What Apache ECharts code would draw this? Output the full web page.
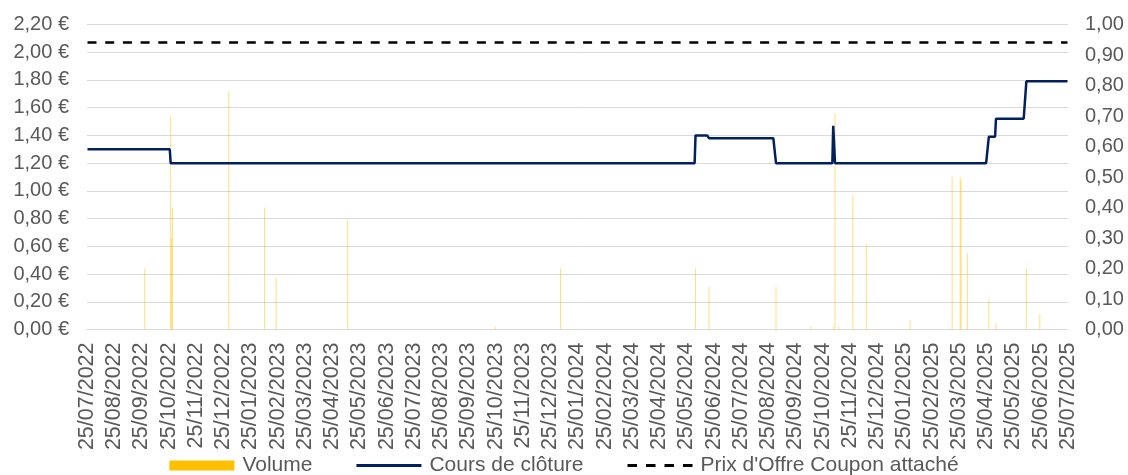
<!DOCTYPE html>
<html>
<head>
<meta charset="utf-8">
<title>Cours de clôture</title>
<script src="https://cdn.jsdelivr.net/npm/echarts@6/dist/echarts.min.js"></script>
<style>
  html, body { margin: 0; padding: 0; background: #fff; }
  #chart { width: 1128px; height: 475px; }
</style>
</head>
<body>
<div id="chart"></div>
<script>
// libellés de l'axe des dates (un par mois)
var monthLabels = [
    '25/07/2022', '25/08/2022', '25/09/2022', '25/10/2022', '25/11/2022', '25/12/2022',
    '25/01/2023', '25/02/2023', '25/03/2023', '25/04/2023', '25/05/2023', '25/06/2023',
    '25/07/2023', '25/08/2023', '25/09/2023', '25/10/2023', '25/11/2023', '25/12/2023',
    '25/01/2024', '25/02/2024', '25/03/2024', '25/04/2024', '25/05/2024', '25/06/2024',
    '25/07/2024', '25/08/2024', '25/09/2024', '25/10/2024', '25/11/2024', '25/12/2024',
    '25/01/2025', '25/02/2025', '25/03/2025', '25/04/2025', '25/05/2025', '25/06/2025',
    '25/07/2025'
];

// cours de clôture (€) : points de changement
var closeDates = [
    '2022-07-25', '2022-10-25', '2022-10-26', '2024-06-03', '2024-06-04', '2024-06-17',
    '2024-06-19', '2024-08-30', '2024-09-02', '2024-11-04', '2024-11-05', '2024-11-06',
    '2024-11-07', '2025-04-25', '2025-04-28', '2025-05-05', '2025-05-06', '2025-06-06',
    '2025-06-09', '2025-07-25'
];
var closeValues = [
    1.30, 1.30, 1.20, 1.20, 1.40, 1.40,
    1.38, 1.38, 1.20, 1.20, 1.47, 1.47,
    1.20, 1.20, 1.39, 1.39, 1.52, 1.52,
    1.79, 1.79
];

// volume (axe de droite)
var volumeDates = [
    '2022-09-27', '2022-10-26', '2022-10-27', '2022-10-28', '2022-12-30', '2023-02-08',
    '2023-02-21', '2023-05-12', '2023-10-24', '2024-01-05', '2024-06-04', '2024-06-19',
    '2024-09-02', '2024-10-11', '2024-11-05', '2024-11-07', '2024-11-11', '2024-11-27',
    '2024-12-12', '2025-01-30', '2025-03-18', '2025-03-27', '2025-03-28', '2025-04-04',
    '2025-04-28', '2025-05-06', '2025-06-09', '2025-06-24'
];
var volumeValues = [
    0.20, 0.70, 0.30, 0.40, 0.78, 0.40,
    0.17, 0.36, 0.01, 0.20, 0.20, 0.14,
    0.14, 0.01, 0.01, 0.71, 0.01, 0.44,
    0.28, 0.03, 0.50, 0.50, 0.49, 0.25,
    0.10, 0.02, 0.20, 0.05
];

// prix d'offre coupon attaché
var offerDates = ['2022-07-25', '2025-07-25'];
var offerValues = [2.07, 2.07];

function pairs(dates, values) {
    var out = [];
    for (var i = 0; i < dates.length; i++) {
        out.push([dates[i], values[i]]);
    }
    return out;
}

function frNum(v) {
    return v.toFixed(2).replace('.', ',');
}

var font = "'Liberation Sans', Arial, sans-serif";
var textColor = '#595959';

// icônes de légende : trait plein / pointillé, sans marqueur
var solidIcon = 'path://M0,0h65v3h-65z';
var dashIcon = 'path://M0,0h9v3h-9z M17.5,0h9v3h-9z M35,0h9v3h-9z M52.5,0h9v3h-9z';

var chart = echarts.init(document.getElementById('chart'));
chart.setOption({
    animation: false,
    backgroundColor: '#fff',
    grid: { left: 87, right: 60, top: 24.5, bottom: 145.5 },
    legend: {
        top: 455,
        left: 'center',
        padding: 0,
        itemWidth: 65,
        itemHeight: 10,
        itemGap: 44,
        textStyle: { fontFamily: font, fontSize: 21, lineHeight: 20, color: textColor, padding: [0, 0, 0, 3] },
        data: [
            { name: 'Volume', icon: 'rect', itemStyle: { color: '#FFC000', opacity: 1 } },
            { name: 'Cours de clôture', icon: solidIcon, itemStyle: { color: '#002060' } },
            { name: "Prix d'Offre Coupon attaché", icon: dashIcon, itemStyle: { color: '#000' } }
        ]
    },
    xAxis: [
        {
            type: 'time',
            min: '2022-07-25',
            max: '2025-07-25',
            axisLine: { show: true, lineStyle: { color: '#d9d9d9', width: 1 } },
            axisTick: { show: false },
            axisLabel: { show: false },
            splitLine: { show: false }
        },
        {
            type: 'category',
            position: 'bottom',
            data: monthLabels,
            boundaryGap: false,
            axisLine: { show: false },
            axisTick: { show: false },
            splitLine: { show: false },
            axisLabel: {
                interval: 0,
                rotate: 90,
                margin: 13,
                fontFamily: font,
                fontSize: 21.5,
                color: textColor
            }
        }
    ],
    yAxis: [
        {
            type: 'value',
            min: 0,
            max: 2.2,
            interval: 0.2,
            axisLine: { show: false },
            axisTick: { show: false },
            splitLine: { lineStyle: { color: '#d9d9d9', width: 1 } },
            axisLabel: {
                margin: 18,
                fontFamily: font,
                fontSize: 20,
                color: textColor,
                formatter: function (v) { return frNum(v) + ' €'; }
            }
        },
        {
            type: 'value',
            min: 0,
            max: 1,
            interval: 0.1,
            axisLine: { show: false },
            axisTick: { show: false },
            splitLine: { show: false },
            axisLabel: {
                margin: 17,
                fontFamily: font,
                fontSize: 20,
                color: textColor,
                formatter: function (v) { return frNum(v); }
            }
        }
    ],
    series: [
        {
            name: 'Volume',
            type: 'bar',
            xAxisIndex: 0,
            yAxisIndex: 1,
            barWidth: 1,
            itemStyle: { color: '#FFC000', opacity: 0.5 },
            data: pairs(volumeDates, volumeValues)
        },
        {
            name: 'Cours de clôture',
            type: 'line',
            xAxisIndex: 0,
            yAxisIndex: 0,
            symbol: 'none',
            lineStyle: { color: '#002060', width: 2.5 },
            itemStyle: { color: '#002060' },
            data: pairs(closeDates, closeValues),
            z: 3
        },
        {
            name: "Prix d'Offre Coupon attaché",
            type: 'line',
            xAxisIndex: 0,
            yAxisIndex: 0,
            symbol: 'none',
            lineStyle: { color: '#000', width: 2.5, type: [9, 8.7] },
            itemStyle: { color: '#000' },
            data: pairs(offerDates, offerValues),
            z: 4
        }
    ]
});
</script>
</body>
</html>
